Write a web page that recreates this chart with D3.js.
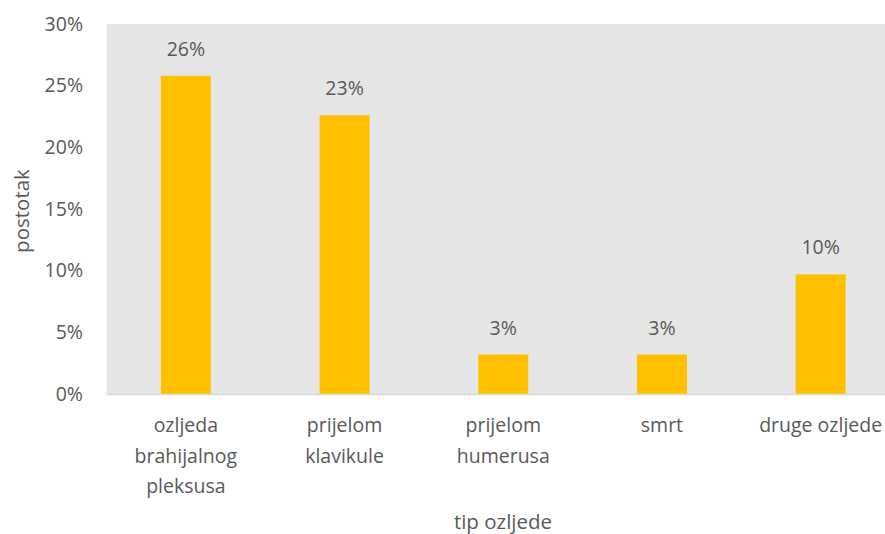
<!DOCTYPE html>
<html>
<head>
<meta charset="utf-8">
<script src="https://cdn.jsdelivr.net/npm/d3@7"></script>
<style>
  body { margin: 0; background: #fff; }
  text { font-family: "Open Sans", sans-serif; fill: #595959; }
</style>
</head>
<body>
<svg width="885" height="534"></svg>
<script>
// categories (wrapped lines) and values
const categories = [
  ["ozljeda", "brahijalnog", "pleksusa"],
  ["prijelom", "klavikule"],
  ["prijelom", "humerusa"],
  ["smrt"],
  ["druge ozljede"]
];
const values = [25.8, 22.6, 3.2, 3.2, 9.7];
const labels = ["26%", "23%", "3%", "3%", "10%"];
const yTicks = [0, 5, 10, 15, 20, 25, 30];

const svg = d3.select("svg");
const plotLeft = 106.5, plotRight = 900, plotTop = 24, plotBottom = 394;

const x = d3.scaleBand()
  .domain(d3.range(categories.length))
  .range([plotLeft, plotRight])
  .paddingInner(0.685)
  .paddingOuter(0.3425);

const y = d3.scaleLinear().domain([0, 30]).range([plotBottom, plotTop]);

// plot background
svg.append("rect")
  .attr("x", plotLeft).attr("y", plotTop)
  .attr("width", plotRight - plotLeft).attr("height", plotBottom - plotTop)
  .attr("fill", "#e7e6e6");

// bars
svg.selectAll(".bar")
  .data(values)
  .enter().append("rect")
    .attr("class", "bar")
    .attr("x", (d, i) => x(i))
    .attr("y", d => y(d))
    .attr("width", x.bandwidth())
    .attr("height", d => plotBottom - y(d))
    .attr("fill", "#ffc000");

// baseline
svg.append("line")
  .attr("x1", plotLeft).attr("x2", plotRight)
  .attr("y1", plotBottom + 0.5).attr("y2", plotBottom + 0.5)
  .attr("stroke", "#d9d9d9").attr("stroke-width", 1.5);

// data labels
svg.selectAll(".dlabel")
  .data(values)
  .enter().append("text")
    .attr("class", "dlabel")
    .attr("x", (d, i) => x(i) + x.bandwidth() / 2)
    .attr("y", d => y(d) - 20)
    .attr("text-anchor", "middle")
    .style("font-size", "19.5px")
    .text((d, i) => labels[i]);

// y axis labels
svg.selectAll(".ytick")
  .data(yTicks)
  .enter().append("text")
    .attr("class", "ytick")
    .attr("x", 83)
    .attr("y", d => y(d))
    .attr("dy", "0.35em")
    .attr("text-anchor", "end")
    .style("font-size", "19.5px")
    .text(d => d + "%");

// x category labels
const cat = svg.selectAll(".cat")
  .data(categories)
  .enter().append("text")
    .attr("class", "cat")
    .attr("text-anchor", "middle")
    .style("font-size", "19.5px");
cat.selectAll("tspan")
  .data((d, i) => d.map(t => ({ t, i })))
  .enter().append("tspan")
    .attr("x", d => x(d.i) + x.bandwidth() / 2)
    .attr("y", (d, j) => 432 + j * 30.5)
    .text(d => d.t);

// axis titles
svg.append("text")
  .attr("x", 503).attr("y", 529)
  .attr("text-anchor", "middle")
  .style("font-size", "20.5px")
  .text("tip ozljede");

svg.append("text")
  .attr("transform", "translate(29,211) rotate(-90)")
  .attr("text-anchor", "middle")
  .style("font-size", "20.5px")
  .text("postotak");
</script>
</body>
</html>
